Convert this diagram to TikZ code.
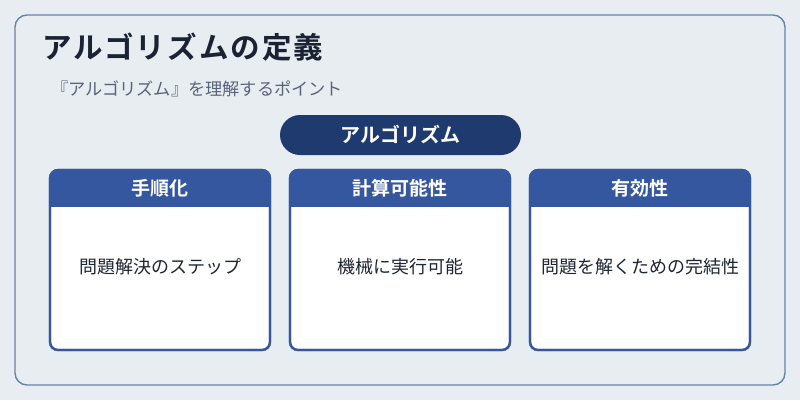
\documentclass[tikz,border=0pt]{standalone}
\usepackage{fontspec}
\setmainfont{Noto Sans CJK JP}
\newfontfamily\jpbold{Noto Sans CJK JP Bold}
\newfontfamily\jptitle[LetterSpace=7]{Noto Sans CJK JP Bold}
\definecolor{bgc}{HTML}{E8EDF2}
\definecolor{framec}{HTML}{6A80AC}
\definecolor{titlec}{HTML}{1A2233}
\definecolor{subc}{HTML}{5A6478}
\definecolor{pillc}{HTML}{1F3A6E}
\definecolor{headc}{HTML}{3557A0}
\definecolor{bodyc}{HTML}{1E2533}
\tikzset{
  cardbox/.style={draw=headc, line width=2.2pt, fill=white, rounded corners=8pt},
  headtext/.style={text=white, font=\jpbold\fontsize{19}{22}\selectfont, anchor=center},
  bodytext/.style={text=bodyc, font=\fontsize{18}{22}\selectfont, anchor=center},
}
\begin{document}
\begin{tikzpicture}[x=1pt,y=-1pt]
\fill[bgc] (0,0) rectangle (800,400);
\useasboundingbox (0,0) rectangle (800,400);
\draw[framec, line width=1.4pt, rounded corners=12pt] (15,15) rectangle (785,385);
\node[anchor=west, inner sep=0pt, text=titlec, font=\jptitle\fontsize{29.5}{32}\selectfont] (title) at (42,47) {アルゴリズムの定義};
\node[anchor=west, inner sep=0pt, text=subc, font=\fontsize{17.2}{20}\selectfont] (sub) at (51,89) {『アルゴリズム』を理解するポイント};
\fill[pillc, rounded corners=20pt] (280,115) rectangle (521,155);
\node[text=white, font=\jpbold\fontsize{20}{22}\selectfont] (pill) at (400.5,135) {アルゴリズム};
\foreach \x/\h/\b/\n in {50/手順化/問題解決のステップ/a, 290/計算可能性/機械に実行可能/b, 530/有効性/問題を解くための完結性/c}{
  \path[cardbox] (\x,170) rectangle ++(220,180);
  \begin{scope}
    \clip[rounded corners=8pt] (\x,170) rectangle ++(220,180);
    \fill[headc] (\x,170) rectangle ++(220,37);
  \end{scope}
  \draw[headc, line width=2.2pt, rounded corners=8pt] (\x,170) rectangle ++(220,180);
  \node[headtext] (h\n) at (\x+110,188.5) {\h};
  \node[bodytext] (b\n) at (\x+110,267) {\b};
}
\end{tikzpicture}
\end{document}
